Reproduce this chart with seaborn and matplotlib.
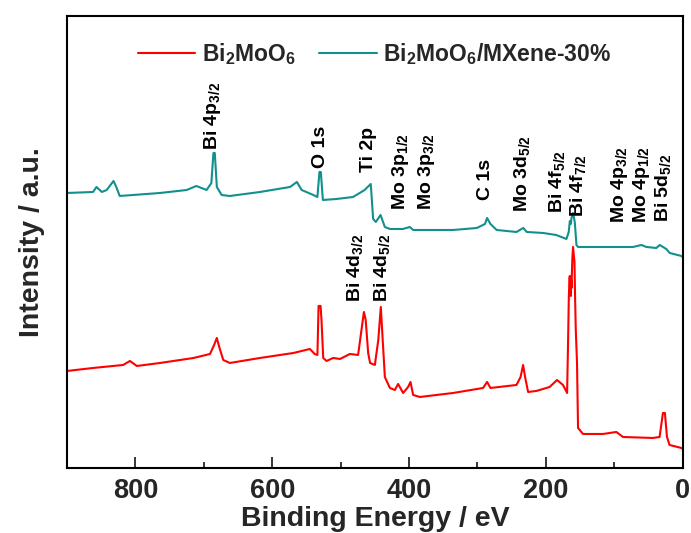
import matplotlib
matplotlib.use("Agg")
import matplotlib.pyplot as plt
import seaborn as sns
import pandas as pd
from matplotlib.ticker import MultipleLocator

# --- survey spectra: binding energy (eV) and intensity (a.u.) ---
mx_energy = [900, 862, 857, 849, 842, 832, 828, 823, 764, 725, 711, 696, 689, 686, 684,
             681, 674, 662, 618, 574, 564, 557, 540, 534, 531, 529, 526, 506, 482, 474.5,
             465, 456, 452.5, 448.6, 441.7, 435.4, 428, 409, 399, 394, 335.6, 301, 289, 286,
             281, 272, 243, 233, 228, 204, 185, 170, 166.6, 165, 163.5, 162.6, 160.3, 157.8,
             155.3, 153, 116, 97, 72.6, 60.4, 53, 38.5, 33.6, 28.8, 24, 19, 2, 0]
mx_intensity = [275, 276, 281, 276, 278, 287, 281, 272, 275, 278, 282, 278, 285, 315, 315,
                281, 273, 272, 276, 281, 286, 278, 273, 271, 296, 296, 268, 269, 271, 274,
                278, 284, 249, 246, 253, 241, 239, 239, 241, 238, 238, 240, 244, 250,
                244, 238, 236, 240, 236, 235, 233, 229, 236, 247, 244, 250, 255, 246,
                223, 221, 221, 221, 221, 223, 221, 220, 223, 221, 219, 215, 212, 211]

bmo_energy = [900, 862, 818, 808, 798, 764, 715, 691, 685, 681, 677.5, 671.6, 662, 618, 569,
              545, 538, 534, 532.3, 529.4, 528, 525.5, 520.6, 511, 501, 486.5, 474.5, 469.6,
              466, 463.4, 459.8, 457, 450, 445, 441.3, 438.8, 435.4, 428, 420.8, 416, 408.7,
              401.4, 397.9, 394, 384.3, 335.6, 291.8, 286, 281, 243, 237, 233.3, 230.4, 226,
              214, 194.5, 183.7, 175, 169, 167.6, 166.5, 165.5, 165, 164.5, 164, 163.5, 163,
              162.5, 162, 161.3, 160.3, 159.5, 158.2, 157.3, 156.3, 154.5, 153, 145.7, 116.5,
              97, 87.3, 43.5, 33.8, 28.9, 26, 23, 19.2, 2, 0]
bmo_intensity = [97, 100, 103, 107, 102, 105, 110, 114, 123, 130, 121, 108, 105, 110, 115,
                 119, 114, 113, 162, 162, 148, 110, 107, 110, 109, 114, 113, 138,
                 156, 148, 115, 105, 103, 128, 161, 131, 91, 80, 78, 84, 75,
                 81, 86, 73, 71, 75, 80, 86, 80, 83, 91, 103, 91, 76,
                 77, 81, 88, 83, 75, 125, 170, 190, 192, 175, 190, 172, 188,
                 180, 195, 210, 221, 215, 206, 170, 138, 105, 40, 34, 34,
                 36, 31, 30, 31, 55, 55, 31, 23, 20, 19]

series_names = [r"Bi$_2$MoO$_6$", r"Bi$_2$MoO$_6$/MXene-30%"]
series_colors = ["#ff0000", "#12908e"]

# --- peak assignments: label text, energy of label, lower end of label (a.u.) ---
peak_labels = [r"Bi 4p$_{3/2}$", "O 1s", "Ti 2p", r"Mo 3p$_{1/2}$", r"Mo 3p$_{3/2}$",
               "C 1s", r"Mo 3d$_{5/2}$", r"Bi 4f$_{5/2}$", r"Bi 4f$_{7/2}$",
               r"Mo 4p$_{3/2}$", r"Mo 4p$_{1/2}$", r"Bi 5d$_{5/2}$",
               r"Bi 4d$_{3/2}$", r"Bi 4d$_{5/2}$"]
peak_label_x = [687, 530, 460, 413, 374, 289, 235, 184, 153, 92, 60, 29, 479, 440]
peak_label_y = [318, 300, 296, 258, 258, 268, 256, 255, 251, 245, 245, 246, 166, 166]

df = pd.concat([
    pd.DataFrame({"energy": bmo_energy, "intensity": bmo_intensity, "sample": series_names[0]}),
    pd.DataFrame({"energy": mx_energy, "intensity": mx_intensity, "sample": series_names[1]}),
], ignore_index=True)

sns.set_style("ticks")
plt.rcParams["font.family"] = ["Liberation Sans", "DejaVu Sans"]
plt.rcParams["font.weight"] = "bold"
plt.rcParams["mathtext.fontset"] = "custom"
plt.rcParams["mathtext.rm"] = "Liberation Sans:bold"
plt.rcParams["mathtext.it"] = "Liberation Sans:bold"
plt.rcParams["mathtext.bf"] = "Liberation Sans:bold"

fig = plt.figure(figsize=(6.91, 5.33), dpi=100)
ax = fig.add_axes([0.097, 0.122, 0.891, 0.848])

sns.lineplot(data=df, x="energy", y="intensity", hue="sample", palette=series_colors,
             hue_order=series_names, estimator=None, sort=False, linewidth=1.5, ax=ax)

ax.set_xlim(900, 0)
ax.set_ylim(0, 452)
ax.xaxis.set_major_locator(MultipleLocator(200))
ax.xaxis.set_minor_locator(MultipleLocator(100))
ax.tick_params(axis="x", which="major", direction="in", length=8, width=1.3,
               labelsize=19.5, pad=7)
ax.tick_params(axis="x", which="minor", direction="in", length=4, width=1.3)
ax.set_yticks([])
for lbl in ax.get_xticklabels():
    lbl.set_fontweight("bold")
for sp in ax.spines.values():
    sp.set_linewidth(1.5)
    sp.set_color("black")

ax.set_xlabel("Binding Energy / eV", fontsize=20.5, fontweight="bold", labelpad=2)
ax.set_ylabel("Intensity / a.u.", fontsize=20.5, fontweight="bold", labelpad=16)

for txt, xe, yi in zip(peak_labels, peak_label_x, peak_label_y):
    ax.text(xe, yi, txt, rotation=90, ha="center", va="bottom",
            fontsize=14, fontweight="bold", color="black")

handles, labels = ax.get_legend_handles_labels()
ax.legend(handles, labels, loc="upper center", ncol=2, frameon=False,
          fontsize=16.5, handlelength=2.5, columnspacing=1.0,
          bbox_to_anchor=(0.5, 0.99), handletextpad=0.3)

fig.savefig("out.png", dpi=100)
